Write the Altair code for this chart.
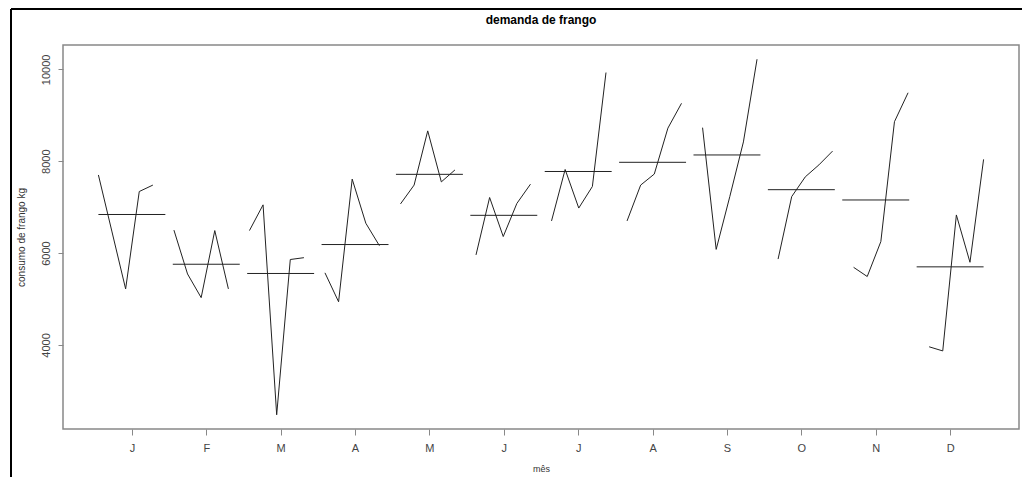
import json

import altair as alt
import pandas as pd

# Seasonal subseries of chicken consumption (kg): one list per month, five years each
month_labels = ["J", "F", "M", "A", "M", "J", "J", "A", "S", "O", "N", "D"]
jan = [7700, 6460, 5220, 7340, 7480]
feb = [6500, 5545, 5030, 6490, 5220]
mar = [6490, 7050, 2480, 5860, 5900]
apr = [5570, 4940, 7610, 6650, 6160]
may = [7070, 7480, 8660, 7550, 7810]
jun = [5960, 7210, 6360, 7080, 7500]
jul = [6700, 7820, 6980, 7450, 9930]
aug = [6700, 7480, 7720, 8720, 9260]
sep = [8730, 6080, 7230, 8420, 10220]
oct_ = [5870, 7230, 7660, 7920, 8220]
nov = [5690, 5490, 6250, 8860, 9490]
dec = [3960, 3870, 6830, 5800, 8040]
by_month = [jan, feb, mar, apr, may, jun, jul, aug, sep, oct_, nov, dec]

n_years = 5
n_obs = 12 * n_years

# monthplot layout: each month's points spread over [m - 0.45, m + 0.45] by time index
rows = []
for k, vals in enumerate(by_month):
    for j, v in enumerate(vals):
        t = 12 * j + k
        rows.append({
            "month": k + 1,
            "year": j + 1,
            "pos": (k + 1) - 0.45 + 0.9 * t / (n_obs - 1),
            "consumo": v,
        })
df = pd.DataFrame(rows)

# Horizontal reference line at each month's mean
base = df.groupby("month", as_index=False)["consumo"].mean()
base["x0"] = base["month"] - 0.45
base["x1"] = base["month"] + 0.45

lo, hi = df["consumo"].min(), df["consumo"].max()
pad = 0.04 * (hi - lo)
y_domain = [lo - pad, hi + pad]
x_domain = [0.55 - 0.04 * 11.9, 12.45 + 0.04 * 11.9]

FONT = "Liberation Sans"
x_scale = alt.Scale(domain=x_domain, nice=False, zero=False)
y_scale = alt.Scale(domain=y_domain, nice=False, zero=False)

label_expr = json.dumps(month_labels).replace('"', "'") + "[datum.value - 1]"

x_axis = alt.Axis(
    values=list(range(1, 13)),
    labelExpr=label_expr,
    title="mês",
    titleFont=FONT,
    titleFontSize=9,
    titleFontWeight="normal",
    titleColor="#333",
    titleBaseline="top",
    titleY=35,
    grid=False,
    domain=False,
    tickSize=6,
    tickColor="#888",
    labelFont=FONT,
    labelFontSize=11,
    labelColor="#444",
    labelPadding=7,
)
y_axis = alt.Axis(
    values=[4000, 6000, 8000, 10000],
    format="d",
    title="consumo de frango kg",
    titleFont=FONT,
    titleFontSize=10,
    titleFontWeight="normal",
    titleColor="#333",
    titleAngle=270,
    titleAlign="center",
    titleBaseline="middle",
    titleX=-42,
    titleY=192,
    grid=False,
    domain=False,
    tickSize=5,
    tickColor="#888",
    labelFont=FONT,
    labelFontSize=11,
    labelColor="#444",
    labelAngle=270,
    labelAlign="center",
    labelBaseline="bottom",
    labelPadding=7,
)

lines = alt.Chart(df).mark_line(color="#222", strokeWidth=1).encode(
    x=alt.X("pos:Q", scale=x_scale, axis=x_axis),
    y=alt.Y("consumo:Q", scale=y_scale, axis=y_axis),
    detail="month:N",
    order="pos:Q",
)

means = alt.Chart(base).mark_rule(color="#222", strokeWidth=1).encode(
    x=alt.X("x0:Q", scale=x_scale),
    x2="x1:Q",
    y=alt.Y("consumo:Q", scale=y_scale),
)

# Page frame around the figure and the plot heading
one_row = pd.DataFrame({"k": [0]})
frame_left = alt.Chart(one_row).mark_rule(color="#000", strokeWidth=2).encode(
    x=alt.value(-52), y=alt.value(-36), y2=alt.value(432)
)
frame_top = alt.Chart(one_row).mark_rule(color="#000", strokeWidth=2).encode(
    x=alt.value(-52), x2=alt.value(962), y=alt.value(-36)
)
heading = alt.Chart(one_row).mark_text(
    text="demanda de frango",
    font=FONT,
    fontSize=12,
    fontWeight="bold",
    color="#000",
    align="center",
    baseline="middle",
).encode(x=alt.value(478), y=alt.value(-25))

chart = (
    alt.layer(lines, means, frame_left, frame_top, heading)
    .properties(
        width=956,
        height=384,
        autosize="none",
        background="white",
        padding={"left": 63, "top": 45, "right": 3, "bottom": 48},
    )
    .configure_view(stroke="#888", strokeWidth=1.5)
)

chart.save("out.html", embed_options={"renderer": "svg", "actions": False})
